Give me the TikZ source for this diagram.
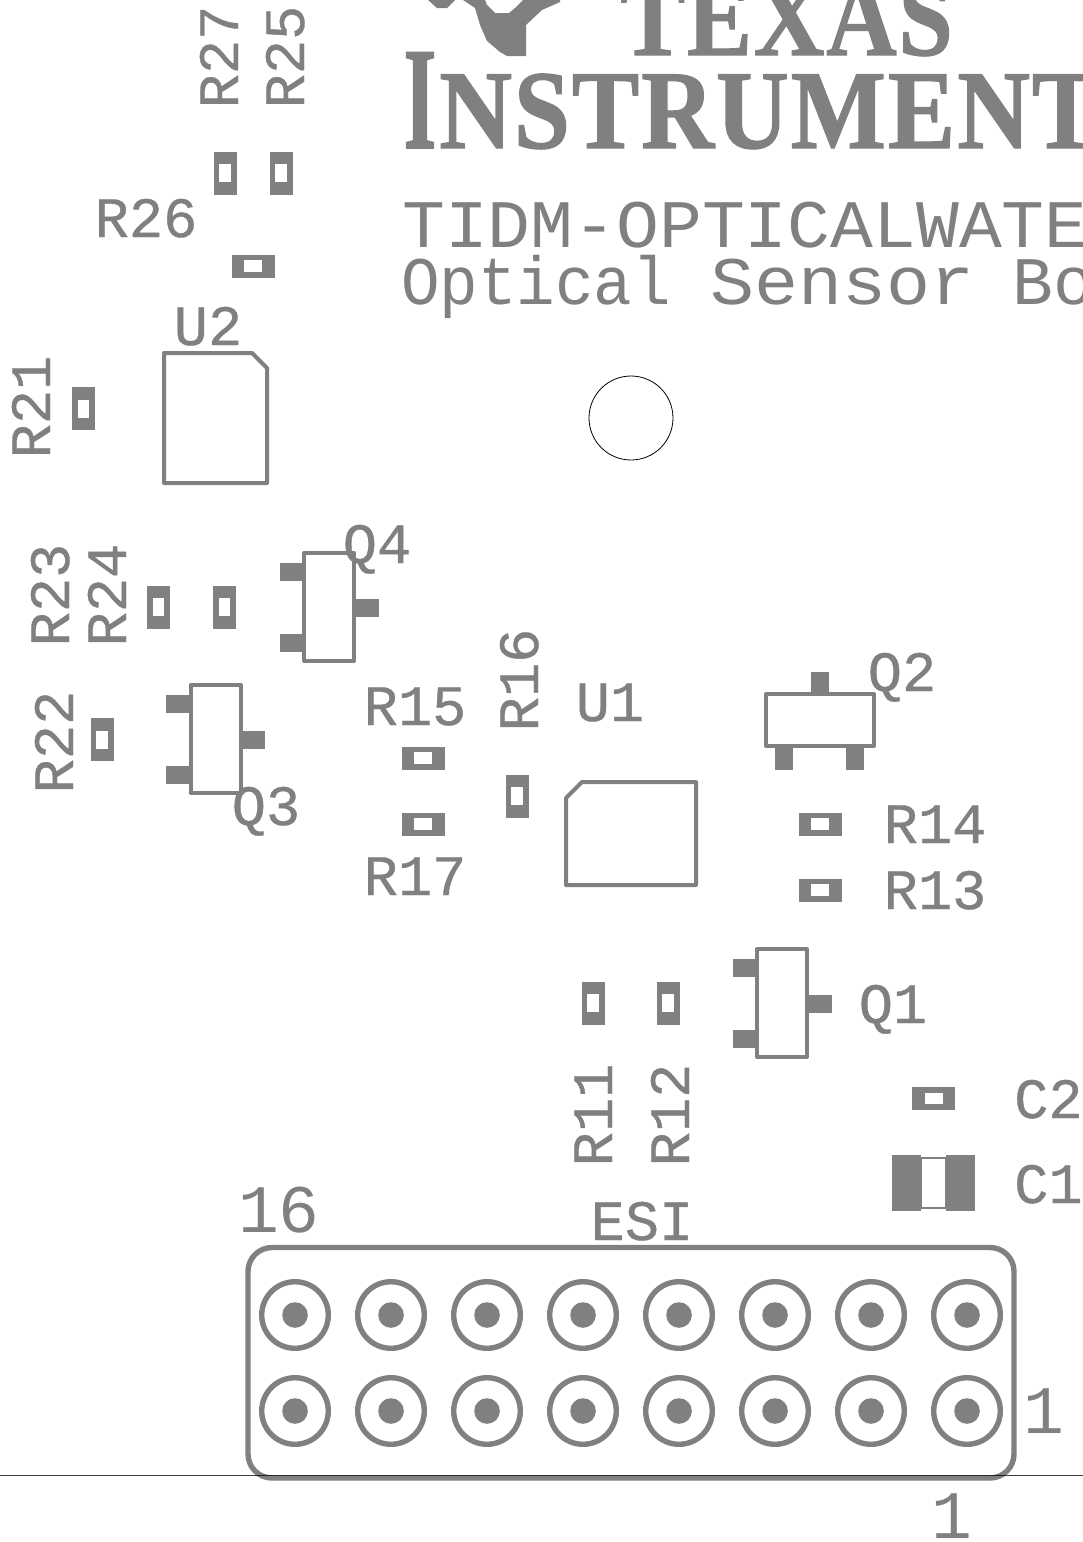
\documentclass[tikz,border=0pt]{standalone}
\usepackage{fontspec}
\usepackage{graphicx}
\newfontfamily\pcbmono{Liberation Mono}
\newfontfamily\pcbheavy{Liberation Mono}[FakeBold=0.7]
\newfontfamily\pcbserif{Liberation Serif Bold}[FakeBold=1.2,LetterSpace=2]
\definecolor{ink}{HTML}{808080}
\tikzset{
  desig/.style={font=\pcbheavy\fontsize{57}{57}\selectfont,text=ink,inner sep=0pt,anchor=base},
  bigt/.style={font=\pcbmono\fontsize{68}{68}\selectfont,text=ink,inner sep=0pt,anchor=base},
  bigl/.style={bigt,anchor=base west},
  logot/.style={font=\pcbserif\fontsize{112}{112}\selectfont,text=ink,inner sep=0pt,anchor=base west},
  outline/.style={draw=ink,line width=4pt,line join=round,line cap=round},
  padf/.style={fill=ink},
}
\begin{document}
\begin{tikzpicture}[x=1pt,y=-1pt]
\useasboundingbox (0,0) rectangle (1083,1542);
\clip (0,0) rectangle (1083,1542);
% logo
\fill[ink] (428,0)--(437,8)--(447,8)--(455,0)--cycle;
\fill[ink] (463,0)--(475,8)--(480,25)--(487,41)--(500,52)--(507,56)--(526,56)--(526,25)--(542,10)--(560,2)--(560,0)--(523,0)--(515,8)--(509,13)--(495,13)--(487,5)--(485,0)--cycle;
\node[logot] (texas) at (620,55) {\scalebox{.87}[1]{TEXAS}};
\node[font=\pcbserif\fontsize{146}{146}\selectfont,text=ink,inner sep=0pt,anchor=base] (bigI) at (420,148) {\scalebox{.58}[1]{I}};
\node[logot] (instr) at (439,148) {\scalebox{.9}[1]{NSTRUMENT}};
% title
\node[bigl] (title1) at (402,247) {\scalebox{1.05}[1]{TIDM-OPTICALWATE}};
\node[bigl] (title2) at (401,304) {\makebox[309pt][l]{\scalebox{.945}[1]{Optical}}\makebox[302pt][l]{\scalebox{1.08}[1]{Sensor}}Bo};
% chip pads
\foreach \x/\y in {225/173,281/173,83.5/408.5,158.5/607,224.5/607,102/739.5,517/796,593/1003,668/1003}{
  \fill[padf] (\x-11.5,\y-21.5) rectangle (\x+11.5,\y+21.5);
  \fill[white] (\x-5.8,\y-9) rectangle (\x+5.8,\y+9);
}
\foreach \x/\y in {253/266,423/758,423/824,820/824,820/890,933.5/1098.5}{
  \fill[padf] (\x-21.5,\y-11.5) rectangle (\x+21.5,\y+11.5);
  \fill[white] (\x-9,\y-5.8) rectangle (\x+9,\y+5.8);
}
% C1
\draw[ink,line width=2.5pt] (921,1158) rectangle (946,1208);
\fill[padf] (892,1155) rectangle (921,1211);
\fill[padf] (946,1155) rectangle (975,1211);
% vertical-body transistors, base on the right
\foreach \x/\y in {782/1003,329/607,215.5/739}{
  \fill[padf] (\x-49.5,\y-44.5) rectangle (\x-25,\y-26.5);
  \fill[padf] (\x-49.5,\y+26.5) rectangle (\x-25,\y+44.5);
  \fill[padf] (\x+25,\y-8.5) rectangle (\x+49.5,\y+9.5);
  \draw[outline] (\x-25,\y-54) rectangle (\x+25,\y+54);
}
% Q2
\fill[padf] (811,672) rectangle (829,694);
\fill[padf] (775,746) rectangle (793,770);
\fill[padf] (846,746) rectangle (864,770);
\draw[outline] (766,694) rectangle (874,746);
% U2, U1
\draw[outline] (164,353)--(252,353)--(267,368)--(267,483)--(164,483)--cycle;
\draw[outline] (582,782)--(696,782)--(696,885)--(566,885)--(566,798)--cycle;
% hole
\draw[black,line width=0.8pt] (631,418) circle[radius=42pt];
% designators
\node[desig,rotate=90] (r27) at (238,57) {R27};
\node[desig,rotate=90] (r25) at (304,57) {R25};
\node[desig] (r26) at (146,237) {R26};
\node[desig] (u2) at (208,345) {U2};
\node[desig,rotate=90] (r21) at (50,407) {R21};
\node[desig,rotate=90] (r23) at (69,595) {R23};
\node[desig,rotate=90] (r24) at (126,595) {R24};
\node[desig,rotate=90] (r22) at (73,742) {R22};
\node[desig] (q4) at (377,563) {Q4};
\node[desig] (q3) at (266,825) {Q3};
\node[desig] (q2) at (902,691) {Q2};
\node[desig] (q1) at (893,1023) {Q1};
\node[desig] (r15) at (415,725) {R15};
\node[desig,rotate=90] (r16) at (538,680) {R16};
\node[desig] (u1) at (610,721) {U1};
\node[desig] (r17) at (415,895) {R17};
\node[desig] (r14) at (935,843) {R14};
\node[desig] (r13) at (935,909) {R13};
\node[desig,rotate=90] (r11) at (612,1115) {R11};
\node[desig,rotate=90] (r12) at (689,1115) {R12};
\node[desig,anchor=base west] (c2) at (1014,1118) {C2};
\node[desig,anchor=base west] (c1) at (1014,1203) {C1};
\node[desig] (esi) at (642,1240) {ESI};
\node[bigt] (n16) at (279,1232) {16};
\node[bigt] (n1a) at (1044,1433) {1};
\node[bigt] (n1b) at (952,1538) {1};
% header
\draw[ink,line width=5.4pt,rounded corners=24pt] (248,1247.5) rectangle (1014,1478);
\foreach \x in {295,391,487,583,679,775,871,967}{
  \foreach \y in {1315,1411}{
    \draw[ink,line width=5.4pt] (\x,\y) circle[radius=33.3pt];
    \fill[padf] (\x,\y) circle[radius=12.8pt];
  }
}
% board edge
\draw[black,opacity=.75,line width=0.8pt] (0,1475.5) -- (1083,1475.5);
\end{tikzpicture}
\end{document}
